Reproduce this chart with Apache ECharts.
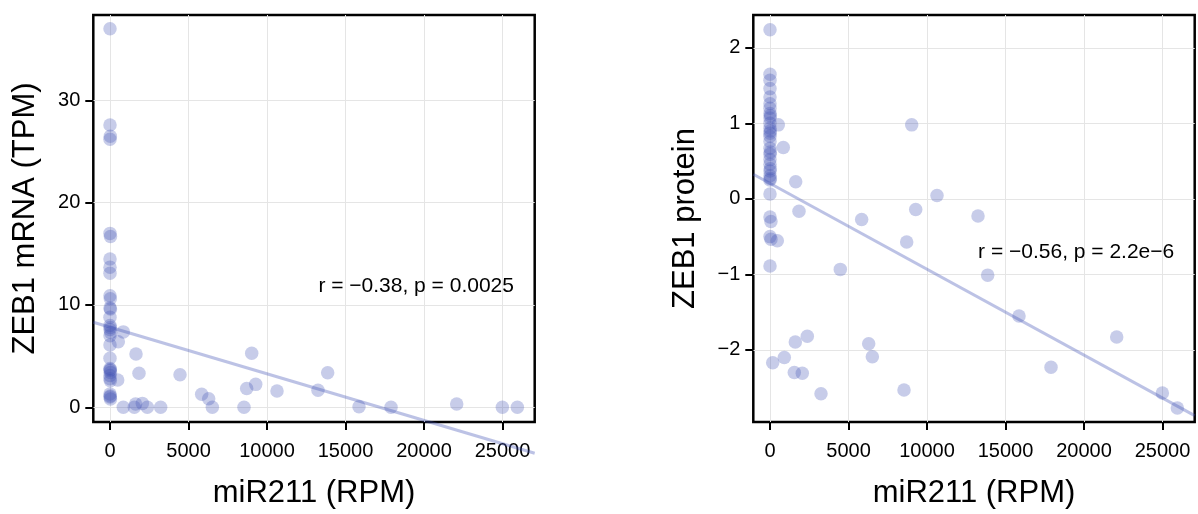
<!DOCTYPE html>
<html>
<head>
<meta charset="utf-8">
<script src="https://cdn.jsdelivr.net/npm/echarts@6/dist/echarts.min.js"></script>
<style>
html,body{margin:0;padding:0;background:#fff;}
#chart{width:1198px;height:514px;}
</style>
</head>
<body>
<div id="chart"></div>
<script>
// ---- data ----
const xTicks = [0, 5000, 10000, 15000, 20000, 25000];
const mrnaTicks = [0, 10, 20, 30];
const proteinTicks = [-2, -1, 0, 1, 2];
const xRange = [-1064, 27050];
const mrnaRange = [-1.44, 38.35];
const proteinRange = [-2.955, 2.435];

const xTitle = 'miR211 (RPM)';
const mrnaTitle = 'ZEB1 mRNA (TPM)';
const proteinTitle = 'ZEB1 protein';
const mrnaStat = 'r = \u22120.38, p = 0.0025';
const proteinStat = 'r = \u22120.56, p = 2.2e\u22126';
const mrnaStatAt = [19500, 11.87];
const proteinStatAt = [19500, -0.71];

const mrnaPoints = [
  [0,37.0],[0,27.6],[20,26.5],[0,26.2],[0,17.0],[30,16.7],[0,14.5],[0,13.7],[0,13.1],
  [0,10.9],[20,10.6],[0,9.7],[30,9.6],[0,8.8],[0,8.0],[20,7.8],[0,7.6],[40,7.3],[0,7.0],
  [0,6.1],[0,4.8],[0,3.8],[20,3.7],[0,3.6],[30,3.4],[0,3.1],[0,2.8],[20,2.6],[0,1.3],
  [20,1.1],[0,1.0],[30,0.8],
  [847,7.37],[530,6.41],[1656,5.2],[1847,3.33],[490,2.66],[4459,3.18],[847,0.0],[1550,0.0],
  [1630,0.32],[2059,0.38],[2378,0.0],[3226,0.0],[5838,1.28],[6285,0.83],[6518,0.0],[8535,0.0],
  [8705,1.83],[9280,2.24],[9025,5.29],[10637,1.6],[13248,1.66],[13864,3.37],[15860,0.06],
  [17898,0.0],[22082,0.32],[24990,0.0],[25945,0.0]
];
const proteinPoints = [
  [0,2.24],[0,1.65],[0,1.57],[0,1.46],[0,1.35],[0,1.26],[0,1.20],[0,1.13],[20,1.10],[0,1.07],
  [0,1.0],[0,0.935],[20,0.90],[0,0.87],[0,0.83],[0,0.76],[0,0.67],[20,0.62],[0,0.59],[0,0.52],
  [0,0.46],[20,0.40],[0,0.37],[0,0.305],[0,0.25],[20,0.27],[0,0.065],[0,-0.24],[60,-0.30],
  [0,-0.50],[60,-0.535],[0,-0.89],
  [847,0.68],[530,0.98],[1637,0.227],[1847,-0.165],[465,-0.556],[4478,-0.934],[172,-2.17],
  [911,-2.10],[1548,-2.30],[2057,-2.31],[1611,-1.895],[2376,-1.82],[3248,-2.58],[5838,-0.274],
  [6285,-1.92],[6518,-2.09],[8535,-2.53],[8705,-0.57],[9280,-0.14],[9025,0.98],[10637,0.044],
  [13248,-0.226],[13864,-1.01],[15860,-1.55],[17898,-2.23],[22082,-1.83],[24990,-2.57],[25945,-2.77]
];
// fitted regression line endpoints (read at panel edges)
const mrnaFit = [[-1064, 8.31], [27050, -4.49]];
const proteinFit = [[-1064, 0.326], [27050, -2.87]];

// ---- styles ----
const FONT = '"Liberation Sans", Arial, Helvetica, sans-serif';
const pointColor = 'rgba(63,81,181,0.37)';
const lineColor = 'rgba(63,81,181,0.35)';
const TEXT = '#000';
const minus = v => String(v).replace('-', '\u2212');

function makeX(idx) {
  return {
    type: 'value', gridIndex: idx, min: xRange[0], max: xRange[1],
    name: xTitle, nameLocation: 'middle', nameGap: 56,
    nameTextStyle: {fontSize: 31, color: TEXT, fontFamily: FONT},
    axisLine: {show: false, onZero: false},
    axisTick: {show: true, length: 8, customValues: xTicks, lineStyle: {color: '#000', width: 2}},
    axisLabel: {customValues: xTicks, fontSize: 20, color: TEXT, margin: 19, fontFamily: FONT, formatter: v => String(v)},
    splitLine: {show: true, lineStyle: {color: '#e5e5e5', width: 1}}
  };
}
function makeY(idx, range, ticks, title) {
  return {
    type: 'value', gridIndex: idx, min: range[0], max: range[1],
    name: title, nameLocation: 'middle', nameGap: 52, nameRotate: 90,
    nameTextStyle: {fontSize: 31, color: TEXT, fontFamily: FONT},
    axisLine: {show: false, onZero: false},
    axisTick: {show: true, length: 8, customValues: ticks, lineStyle: {color: '#000', width: 2}},
    axisLabel: {customValues: ticks, fontSize: 20, color: TEXT, margin: 13, fontFamily: FONT, formatter: minus},
    splitLine: {show: true, lineStyle: {color: '#e5e5e5', width: 1}}
  };
}
function statSeries(idx, pos, text) {
  return {
    type: 'scatter', xAxisIndex: idx, yAxisIndex: idx, data: [pos], symbolSize: 1,
    itemStyle: {color: 'rgba(0,0,0,0)'}, silent: true, z: 5,
    label: {show: true, position: 'inside', formatter: text, fontSize: 21, color: TEXT,
            opacity: 1, textBorderWidth: 0, fontFamily: FONT}
  };
}

const chart = echarts.init(document.getElementById('chart'), null, {renderer: 'canvas'});
chart.setOption({
  animation: false,
  backgroundColor: '#fff',
  grid: [
    {left: 93.3, top: 15, width: 441.4, height: 413.3, show: true, borderColor: '#000', borderWidth: 2.5, backgroundColor: 'transparent'},
    {left: 753.3, top: 15, width: 441.4, height: 413.3, show: true, borderColor: '#000', borderWidth: 2.5, backgroundColor: 'transparent'}
  ],
  xAxis: [makeX(0), makeX(1)],
  yAxis: [makeY(0, mrnaRange, mrnaTicks, mrnaTitle), makeY(1, proteinRange, proteinTicks, proteinTitle)],
  series: [
    {type: 'scatter', xAxisIndex: 0, yAxisIndex: 0, data: mrnaPoints, symbolSize: 13.5, itemStyle: {color: pointColor}},
    {type: 'scatter', xAxisIndex: 1, yAxisIndex: 1, data: proteinPoints, symbolSize: 13.5, itemStyle: {color: pointColor}},
    {type: 'line', xAxisIndex: 0, yAxisIndex: 0, data: mrnaFit, showSymbol: false, clip: false, silent: true,
     lineStyle: {color: lineColor, width: 3}},
    {type: 'line', xAxisIndex: 1, yAxisIndex: 1, data: proteinFit, showSymbol: false, clip: false, silent: true,
     lineStyle: {color: lineColor, width: 3}},
    statSeries(0, mrnaStatAt, mrnaStat),
    statSeries(1, proteinStatAt, proteinStat)
  ]
});
</script>
</body>
</html>
